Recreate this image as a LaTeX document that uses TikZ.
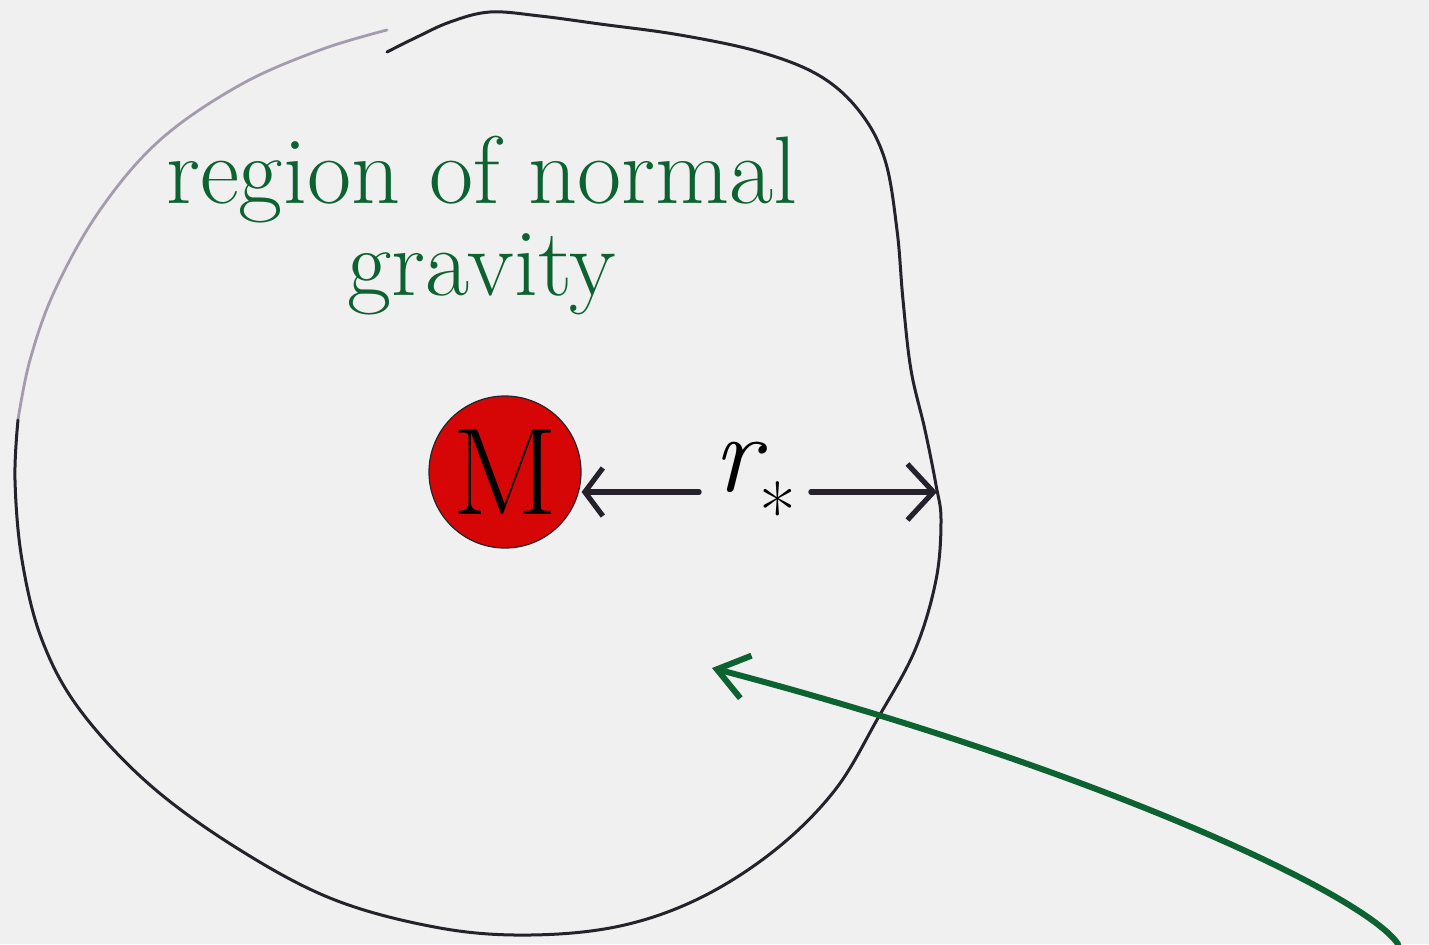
\documentclass[tikz,border=0pt]{standalone}
\usepackage{xcolor}
\usepackage{tikz}
\usetikzlibrary{arrows.meta, positioning}

\definecolor{paper}{RGB}{240,240,240}
\definecolor{inkgreen}{RGB}{12,98,48}
\definecolor{ballred}{RGB}{214,6,6}
\definecolor{pencil}{RGB}{38,34,44}
\definecolor{pencilgrey}{RGB}{165,155,175}

\begin{document}
\begin{tikzpicture}[x=0.5pt, y=-0.5pt]
\fill[paper] (0,0) rectangle (1429,944);
\useasboundingbox (0,0) rectangle (1429,944);
% boundary of the region
\draw[pencilgrey, line width=1.4pt, line cap=round] plot[smooth, tension=0.6] coordinates {(387,30) (320,50) (240,85) (160,140) (100,210) (55,290) (30,360) (18,420)};
\draw[pencil, line width=1.5pt, line cap=round] plot[smooth, tension=0.6] coordinates {(18,420) (15,480) (22,560) (42,640) (80,710) (150,785) (240,850) (335,900) (440,928) (530,935) (620,926) (700,898) (775,850) (835,790) (878,718) (915,650) (936,580) (941,520) (936,485) (925,430) (911,370) (903,300) (897,230) (885,160) (860,112) (820,76) (760,52) (680,35) (600,24) (540,16) (490,12) (450,22) (415,38) (387,52)};
\node[text=inkgreen, align=center, font=\fontsize{48}{46}\selectfont] (region) at (482,226) {region of normal\\gravity};
\node[circle, fill=ballred, draw=pencil, line width=0.6pt, minimum size=76pt, inner sep=0pt, font=\fontsize{62}{62}\selectfont] (mass) at (505,472) {M};
\node[inner sep=7pt, font=\fontsize{56}{56}\selectfont] (rstar) at (755,492) {\itshape r\raisebox{-0.45em}{\fontsize{40}{40}\selectfont\upshape *}};
\coordinate (rim) at (937,490);
\draw[pencil, line width=2.6pt, line cap=round, -{Straight Barb[length=9pt, width=24pt, line width=2.6pt]}] (rstar.west) -- (rstar.west -| mass.east);
\draw[pencil, line width=2.6pt, line cap=round, -{Straight Barb[length=13pt, width=28pt, line width=2.6pt]}] (rstar.east) -- (rstar.east -| rim);
% pointer from outside
\coordinate (outside) at (1398,944);
\coordinate (inside) at (712,668);
\draw[inkgreen, line width=3pt, line cap=round, -{Straight Barb[length=15pt, width=22pt, line width=3pt]}] (outside) .. controls (1365,895) and (1100,770) .. (inside);
\end{tikzpicture}
\end{document}
